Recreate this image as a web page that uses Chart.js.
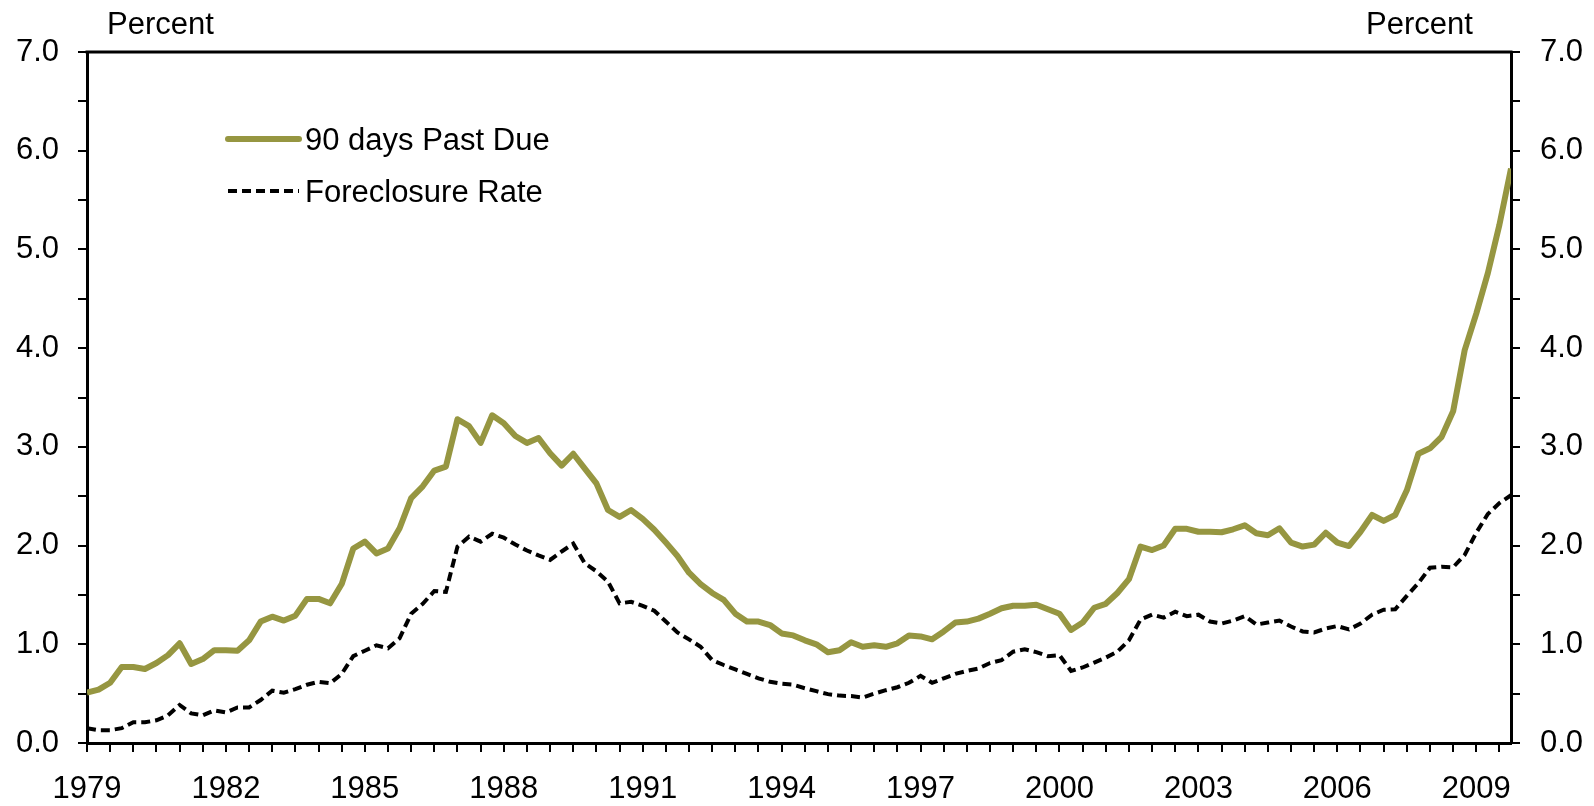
<!DOCTYPE html>
<html>
<head>
<meta charset="utf-8">
<script src="https://cdn.jsdelivr.net/npm/chart.js@4"></script>
<style>
  body { margin: 0; background: #fff; }
</style>
</head>
<body>
<canvas id="chart" width="1594" height="806"></canvas>
<script>
// quarterly series, 1979Q1 .. 2009Q4
const firstYear = 1979
const yearLabels = [1979, 1982, 1985, 1988, 1991, 1994, 1997, 2000, 2003, 2006, 2009]
const seriesNames = ['90 days Past Due', 'Foreclosure Rate']

const pastDue90 = [
  0.51, 0.54, 0.61, 0.77, 0.77, 0.75, 0.81, 0.89, 1.01, 0.80,
  0.85, 0.94, 0.94, 0.935, 1.04, 1.23, 1.28, 1.24, 1.29, 1.46,
  1.46, 1.415, 1.61, 1.97, 2.04, 1.92, 1.97, 2.175, 2.48, 2.60,
  2.76, 2.80, 3.28, 3.21, 3.04, 3.32, 3.24, 3.11, 3.04, 3.09,
  2.935, 2.81, 2.93, 2.78, 2.63, 2.36, 2.29, 2.36, 2.27, 2.16,
  2.03, 1.895, 1.725, 1.61, 1.52, 1.45, 1.31, 1.23, 1.23, 1.195,
  1.11, 1.09, 1.04, 1.00, 0.92, 0.94, 1.02, 0.975, 0.99, 0.975,
  1.01, 1.09, 1.08, 1.05, 1.13, 1.22, 1.23, 1.26, 1.31, 1.365,
  1.39, 1.39, 1.40, 1.355, 1.31, 1.145, 1.22, 1.37, 1.41, 1.52,
  1.66, 1.99, 1.955, 2.00, 2.17, 2.17, 2.14, 2.14, 2.135, 2.165,
  2.205, 2.125, 2.105, 2.175, 2.03, 1.99, 2.01, 2.13, 2.03, 1.995,
  2.14, 2.31, 2.25, 2.31, 2.56, 2.93, 2.985, 3.10, 3.36, 3.98,
  4.35, 4.76, 5.25, 5.82
]

const foreclosure = [
  0.15, 0.13, 0.13, 0.15, 0.21, 0.21, 0.23, 0.28, 0.385, 0.30,
  0.28, 0.33, 0.31, 0.36, 0.36, 0.435, 0.53, 0.51, 0.545, 0.59,
  0.62, 0.605, 0.70, 0.88, 0.935, 0.99, 0.96, 1.06, 1.31, 1.41,
  1.54, 1.53, 1.99, 2.09, 2.04, 2.12, 2.08, 2.01, 1.95, 1.90,
  1.855, 1.94, 2.02, 1.82, 1.74, 1.635, 1.415, 1.43, 1.39, 1.34,
  1.23, 1.12, 1.05, 0.975, 0.84, 0.79, 0.745, 0.70, 0.655, 0.62,
  0.60, 0.59, 0.555, 0.525, 0.495, 0.48, 0.475, 0.46, 0.50, 0.535,
  0.565, 0.61, 0.68, 0.61, 0.655, 0.70, 0.73, 0.755, 0.81, 0.84,
  0.925, 0.95, 0.92, 0.88, 0.89, 0.73, 0.765, 0.815, 0.865, 0.925,
  1.04, 1.25, 1.30, 1.27, 1.33, 1.285, 1.30, 1.23, 1.21, 1.24,
  1.285, 1.20, 1.22, 1.24, 1.18, 1.13, 1.12, 1.16, 1.185, 1.15,
  1.21, 1.30, 1.35, 1.355, 1.49, 1.62, 1.775, 1.785, 1.78, 1.905,
  2.13, 2.32, 2.43, 2.51
]

const FONT = "'Liberation Sans', Arial, sans-serif"
const FONT_SIZE = 31
const olive = '#969641'

const toPoints = arr => arr.map((v, i) => ({ x: firstYear + i / 4, y: v }))
const lastX = firstYear + (pastDue90.length - 1) / 4

// tick marks every half year, labels only every 3 years
const halfYearTicks = []
for (let t = firstYear; t <= lastX; t += 0.5) halfYearTicks.push({ value: t })

function yAxis(position, width, padding) {
    return {
        position: position,
        min: 0,
        max: 7,
        afterFit: s => { s.width = width },
        border: { color: '#000', width: 3 },
        grid: { drawOnChartArea: false, tickLength: 9, color: '#000', lineWidth: 2 },
        ticks: {
            stepSize: 0.5,
            padding: padding,
            color: '#000',
            font: { family: FONT, size: FONT_SIZE },
            callback: v => Number.isInteger(v) ? v.toFixed(1) : ''
        }
    }
}

// top frame line, "Percent" labels and the legend inside the plot
const decorations = {
    id: 'decorations',
    afterDraw(chart) {
        const ctx = chart.ctx
        const a = chart.chartArea
        ctx.save()
        ctx.strokeStyle = '#000'
        ctx.lineWidth = 3
        ctx.beginPath()
        ctx.moveTo(a.left - 1.5, a.top)
        ctx.lineTo(a.right + 1.5, a.top)
        ctx.stroke()

        ctx.fillStyle = '#000'
        ctx.font = FONT_SIZE + 'px ' + FONT
        ctx.textBaseline = 'alphabetic'
        ctx.textAlign = 'left'
        ctx.fillText('Percent', 107, 34)
        ctx.fillText('Percent', 1366, 34)

        const rows = [150, 202]
        chart.data.datasets.forEach((ds, i) => {
            const ly = rows[i] - 11
            ctx.strokeStyle = ds.borderColor
            ctx.lineWidth = ds.borderWidth
            ctx.lineCap = ds.borderDash ? 'butt' : 'round'
            ctx.setLineDash(ds.borderDash || [])
            ctx.beginPath()
            ctx.moveTo(228, ly)
            ctx.lineTo(299, ly)
            ctx.stroke()
            ctx.setLineDash([])
            ctx.fillStyle = '#000'
            ctx.fillText(ds.label, 305, rows[i])
        })
        ctx.restore()
    }
}

new Chart('chart', {
    type: 'line',
    data: {
        datasets: [{
            label: seriesNames[0],
            data: toPoints(pastDue90),
            borderColor: olive,
            borderWidth: 6,
            pointRadius: 0,
            borderJoinStyle: 'round',
            yAxisID: 'y'
        }, {
            label: seriesNames[1],
            data: toPoints(foreclosure),
            borderColor: '#000',
            borderWidth: 4,
            borderDash: [9, 5],
            pointRadius: 0,
            yAxisID: 'y'
        }]
    },
    options: {
        responsive: false,
        animation: false,
        layout: { padding: { top: 52, left: 0, right: 0, bottom: 0 } },
        scales: {
            x: {
                type: 'linear',
                min: firstYear,
                max: lastX,
                afterFit: s => { s.height = 63 },
                afterBuildTicks: s => { s.ticks = halfYearTicks.slice() },
                border: { color: '#000', width: 3 },
                grid: { drawOnChartArea: false, tickLength: 9, color: '#000', lineWidth: 2 },
                ticks: {
                    autoSkip: false,
                    maxRotation: 0,
                    padding: 19,
                    color: '#000',
                    font: { family: FONT, size: FONT_SIZE },
                    callback: v => yearLabels.includes(v) ? String(v) : ''
                }
            },
            y: yAxis('left', 87, 19),
            y2: yAxis('right', 83, 20)
        },
        plugins: {
            legend: { display: false },
            tooltip: { enabled: false }
        }
    },
    plugins: [decorations]
})
</script>
</body>
</html>
